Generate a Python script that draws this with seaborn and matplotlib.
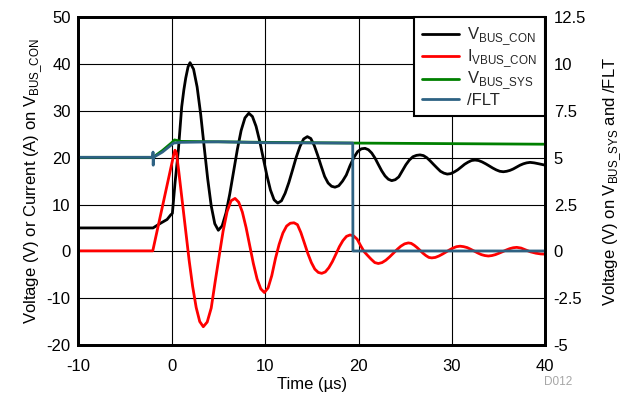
import matplotlib
matplotlib.use("Agg")
import matplotlib.pyplot as plt
from matplotlib.ticker import FuncFormatter
import seaborn as sns

# ---- waveform samples (time in microseconds) ----
# VBUS_CON voltage (left axis, V)
t_vbus_con = [-10, -2.0, -1.2, -0.5, -0.1, 0.07, 0.35, 0.71, 1.07, 1.3, 1.5, 1.75,
              1.96, 2.34, 2.72, 3.1, 3.47, 3.85, 4.23, 4.61, 4.99,
              5.4, 5.81, 6.21, 6.62, 7.03, 7.43, 7.84, 8.25,
              8.64, 9.03, 9.41, 9.8, 10.19, 10.57, 10.96, 11.35,
              11.75, 12.14, 12.54, 12.94, 13.33, 13.73, 14.12, 14.52,
              14.89, 15.26, 15.63, 16.0, 16.37, 16.74, 17.11, 17.48,
              17.88, 18.29, 18.69, 19.09, 19.49, 19.9, 20.3, 20.7,
              21.06, 21.41, 21.77, 22.12, 22.48, 22.84, 23.19, 23.55,
              23.93, 24.31, 24.69, 25.07, 25.44, 25.82, 26.2, 26.58,
              26.95, 27.31, 27.68, 28.04, 28.41, 28.77, 29.14, 29.5,
              29.87, 30.24, 30.61, 30.99, 31.36, 31.73, 32.1, 32.47,
              32.85, 33.23, 33.61, 33.99, 34.36, 34.74, 35.12, 35.5,
              35.86, 36.22, 36.57, 36.93, 37.29, 37.65, 38.0, 38.36,
              38.8, 39.3, 40]
v_vbus_con = [5.0, 5.0, 6.0, 6.8, 7.8, 8.1, 14.5, 21.6, 30.9, 34.5, 37.0, 39.4,
              40.3, 38.9, 35.1, 29.3, 22.4, 15.5, 9.7, 5.9, 4.5,
              5.45, 8.2, 12.2, 17.0, 21.8, 25.8, 28.5, 29.5,
              28.8, 26.7, 23.6, 19.9, 16.2, 13.1, 11.0, 10.3,
              10.8, 12.4, 14.7, 17.4, 20.1, 22.4, 24.0, 24.5,
              24.1, 22.6, 20.5, 18.2, 16.0, 14.6, 13.9, 13.7,
              14.0, 15.0, 16.3, 18.3, 20.0, 21.3, 21.9, 22.0,
              21.7, 21.0, 19.9, 18.55, 17.2, 16.1, 15.4, 15.1,
              15.3, 15.9, 17.2, 18.5, 19.5, 20.2, 20.5, 20.6,
              20.45, 20.0, 19.3, 18.55, 17.8, 17.1, 16.7, 16.5,
              16.6, 16.95, 17.4, 18.0, 18.6, 19.05, 19.4, 19.5,
              19.4, 19.1, 18.7, 18.25, 17.8, 17.4, 17.1, 17.0,
              17.1, 17.3, 17.6, 18.0, 18.4, 18.7, 18.9, 19.0,
              18.9, 18.7, 18.4]

# VBUS_CON current (left axis, A)
t_ivbus = [-10, -2.03, 0.2, 0.35, 0.5, 0.73, 1.11, 1.49, 1.87, 2.24, 2.62, 3.0, 3.38,
           3.8, 4.23, 4.65, 5.08, 5.5, 5.93, 6.35, 6.78,
           7.17, 7.56, 7.96, 8.35, 8.74, 9.14, 9.53, 9.92,
           10.32, 10.71, 11.11, 11.5, 11.9, 12.3, 12.69, 13.09,
           13.46, 13.83, 14.2, 14.58, 14.95, 15.32, 15.69, 16.06,
           16.44, 16.82, 17.2, 17.58, 17.95, 18.33, 18.71, 19.09,
           19.47, 19.85, 20.23, 20.61, 20.98, 21.36, 21.74, 22.12,
           22.52, 22.92, 23.32, 23.73, 24.13, 24.53, 24.93, 25.33,
           25.64, 25.96, 26.27, 26.59, 26.9, 27.21, 27.53, 27.84,
           28.22, 28.6, 28.98, 29.36, 29.73, 30.11, 30.49, 30.87,
           31.25, 31.63, 32.0, 32.39, 32.77, 33.15, 33.52, 33.9,
           34.28, 34.66, 35.04, 35.42, 35.8, 36.18, 36.56, 36.94,
           37.4, 37.9, 38.4, 39.0, 39.5, 40]
i_vbus = [0.1, 0.1, 20.5, 21.6, 21.0, 17.5, 11.0, 4.5, -2.0, -7.5, -12.0, -15.0, -16.1,
          -15.1, -12.1, -6.5, -1.0, 4.3, 8.5, 10.8, 11.3,
          10.5, 8.4, 5.1, 1.25, -2.6, -5.9, -8.0, -8.8,
          -7.8, -5.2, -1.5, 1.5, 3.9, 5.4, 6.0, 6.1,
          5.7, 4.0, 1.8, -0.5, -2.4, -3.8, -4.5, -4.7,
          -4.4, -3.5, -2.2, -0.6, 1.0, 2.3, 3.2, 3.5,
          3.3, 2.6, 1.2, -0.1, -0.9, -1.7, -2.4, -2.6,
          -2.4, -1.9, -1.2, -0.4, 0.4, 1.1, 1.6, 1.8,
          1.7, 1.3, 0.8, 0.2, -0.4, -0.9, -1.3, -1.4,
          -1.3, -1.0, -0.6, -0.15, 0.3, 0.7, 1.0, 1.1,
          1.0, 0.8, 0.45, 0.05, -0.35, -0.7, -0.9, -1.0,
          -0.9, -0.7, -0.4, -0.08, 0.27, 0.57, 0.77, 0.85,
          0.7, 0.3, -0.1, -0.4, -0.55, -0.6]

# VBUS_SYS voltage (right axis, V)
t_vbus_sys = [-10, -2.0, -1.0, 0.0, 0.3, 1.0, 5, 10, 20, 30, 40]
v_vbus_sys = [5.02, 5.02, 5.38, 5.8, 5.95, 5.87, 5.85, 5.82, 5.78, 5.75, 5.72]

# /FLT voltage (right axis, V)
t_flt = [-10, -2.05, -2.0, -1.98, -1.95, -1.0, 0.2, 1.0, 5, 10, 19.38, 19.4, 40]
v_flt = [5.02, 5.02, 5.3, 4.6, 5.02, 5.3, 5.78, 5.82, 5.85, 5.8, 5.78, 0.02, 0.02]

x_ticks = [-10, 0, 10, 20, 30, 40]
left_ticks = [-20, -10, 0, 10, 20, 30, 40, 50]
right_ticks = [-5, -2.5, 0, 2.5, 5, 7.5, 10, 12.5]

labels = ["V$_{\\mathregular{BUS\\_CON}}$", "I$_{\\mathregular{VBUS\\_CON}}$",
          "V$_{\\mathregular{BUS\\_SYS}}$", "/FLT"]
colors = ["black", "#ff0000", "#008000", "#2e6283"]

sns.set_theme(style="white")
plt.rcParams["font.family"] = ["Liberation Sans", "DejaVu Sans"]
plt.rcParams["mathtext.fontset"] = "custom"
plt.rcParams["mathtext.rm"] = "Liberation Sans"
plt.rcParams["axes.unicode_minus"] = False

fig, ax = plt.subplots(figsize=(6.29, 4.01), dpi=100)
fig.subplots_adjust(left=0.1245, right=0.867, top=0.957, bottom=0.1397)

sns.lineplot(x=t_vbus_con, y=v_vbus_con, ax=ax, color=colors[0], lw=2,
             sort=False, estimator=None)
sns.lineplot(x=t_ivbus, y=i_vbus, ax=ax, color=colors[1], lw=2,
             sort=False, estimator=None)

ax2 = ax.twinx()
sns.lineplot(x=t_vbus_sys, y=v_vbus_sys, ax=ax2, color=colors[2], lw=2,
             sort=False, estimator=None)
sns.lineplot(x=t_flt, y=v_flt, ax=ax2, color=colors[3], lw=2,
             sort=False, estimator=None)

ax.set_xlim(-10, 40)
ax.set_ylim(-20, 50)
ax2.set_ylim(-5, 12.5)
ax.set_xticks(x_ticks)
ax.set_yticks(left_ticks)
ax2.set_yticks(right_ticks)
fmt = FuncFormatter(lambda v, p: f"{v:g}")
ax.xaxis.set_major_formatter(fmt)
ax.yaxis.set_major_formatter(fmt)
ax2.yaxis.set_major_formatter(fmt)

ax.grid(True, color="black", lw=0.8)
ax.set_axisbelow(True)
ax.tick_params(axis="x", length=0, pad=10, labelsize=12, colors="black")
ax.tick_params(axis="y", length=0, pad=5.5, labelsize=12, colors="black")
ax2.tick_params(axis="y", length=0, pad=6, labelsize=12, colors="black")

for a in (ax, ax2):
    for s in a.spines.values():
        s.set_linewidth(2)
        s.set_color("black")

ax.set_xlabel("Time (\u00b5s)", fontsize=12, labelpad=2, color="black")
ax.set_ylabel("Voltage (V) or Current (A) on V$_{\\mathregular{BUS\\_CON}}$",
              fontsize=12, color="black")
ax2.set_ylabel("Voltage (V) on V$_{\\mathregular{BUS\\_SYS}}$ and /FLT",
               fontsize=12, color="black")
ax.yaxis.set_label_coords(-0.071, 0.5)
ax2.yaxis.set_label_coords(1.1214, 0.5)

handles = ax.get_lines()[:2] + ax2.get_lines()[:2]
leg = ax2.legend(handles, labels, loc="upper right", borderaxespad=0,
                 fancybox=False, edgecolor="black", framealpha=1, fontsize=12,
                 handlelength=2.2, handletextpad=0.5, labelspacing=0.02,
                 borderpad=0.5)
leg.get_frame().set_linewidth(1.5)

fig.text(558 / 629, 1 - 382 / 401, "D012", color="#a6a6a6", fontsize=8.5,
         ha="center", va="center")

fig.savefig("out.png", dpi=100)
